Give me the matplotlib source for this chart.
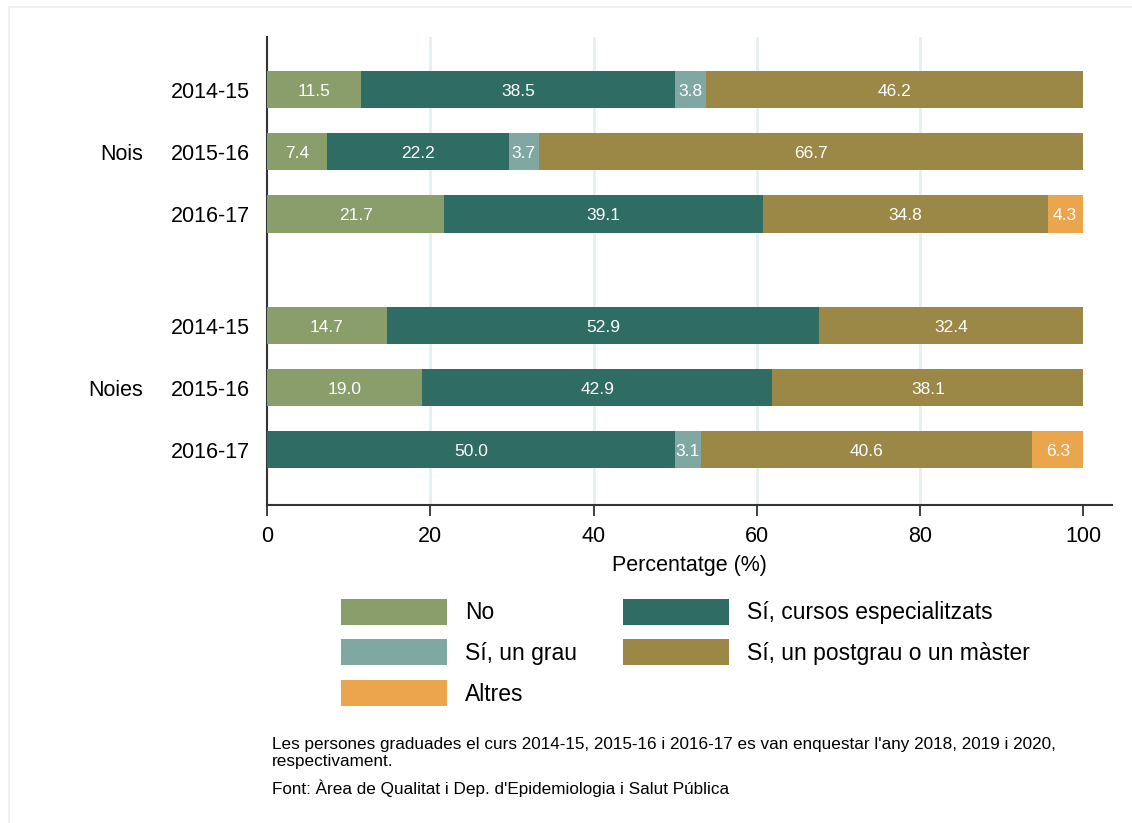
import matplotlib.pyplot as plt
from matplotlib.patches import Rectangle, Patch
from matplotlib.transforms import blended_transform_factory

plt.rcParams['font.family'] = ['Liberation Sans', 'DejaVu Sans']

# Data
groups = ['Nois', 'Noies']
years = ['2014-15', '2015-16', '2016-17', '2014-15', '2015-16', '2016-17']
categories = ['No', 'Sí, cursos especialitzats', 'Sí, un grau',
              'Sí, un postgrau o un màster', 'Altres']
colors = ['#8a9e6b', '#2e6c64', '#7fa8a3', '#9b8746', '#eba54d']

no_vals = [11.5, 7.4, 21.7, 14.7, 19.0, 0.0]
cursos_vals = [38.5, 22.2, 39.1, 52.9, 42.9, 50.0]
grau_vals = [3.8, 3.7, 0.0, 0.0, 0.0, 3.1]
postgrau_vals = [46.2, 66.7, 34.8, 32.4, 38.1, 40.6]
altres_vals = [0.0, 0.0, 4.3, 0.0, 0.0, 6.3]
series = [no_vals, cursos_vals, grau_vals, postgrau_vals, altres_vals]

note_lines = ["Les persones graduades el curs 2014-15, 2015-16 i 2016-17 es van enquestar l'any 2018, 2019 i 2020,",
              "respectivament.",
              "Font: Àrea de Qualitat i Dep. d'Epidemiologia i Salut Pública"]

ypos = [0, 1, 2, 3.8, 4.8, 5.8]

fig = plt.figure(figsize=(11.32, 8.23), dpi=100)
ax = fig.add_axes([267 / 1132, 1 - 505 / 823, (1112 - 267) / 1132, (505 - 37) / 823])

# light outer frame
fig.add_artist(Rectangle((9 / 1132, -0.05), 1.1, 1 - 7 / 823 + 0.05,
                         transform=fig.transFigure, fill=False,
                         edgecolor='#ececec', linewidth=1.2))

left = [0.0] * len(ypos)
for vals, col, lab in zip(series, colors, categories):
    ax.barh(ypos, vals, left=left, height=0.6, color=col, label=lab, zorder=3)
    for y, v, l in zip(ypos, vals, left):
        if v > 0:
            ax.text(l + v / 2, y, f'{v:.1f}', ha='center', va='center_baseline',
                    color='white', fontsize=12.5, zorder=4)
    left = [a + b for a, b in zip(left, vals)]

ax.set_xlim(0, 103.5)
ax.set_ylim(6.69, -0.85)
ax.set_xticks([0, 20, 40, 60, 80, 100])
ax.set_yticks(ypos)
ax.set_yticklabels(years)
ax.tick_params(axis='y', length=0, pad=12, labelsize=15.5)
ax.tick_params(axis='x', length=8, width=1.3, color='#333333', labelsize=15.5, pad=7)
for x in [20, 40, 60, 80]:
    ax.axvline(x, color='#e6eff1', linewidth=2, zorder=1)
for s in ['top', 'right']:
    ax.spines[s].set_visible(False)
for s in ['left', 'bottom']:
    ax.spines[s].set_color('#333333')
    ax.spines[s].set_linewidth(1.5)
ax.set_xlabel('Percentatge (%)', fontsize=15.5, labelpad=6)

# group labels
trans = blended_transform_factory(fig.transFigure, ax.transData)
ax.text(143 / 1132, ypos[1], groups[0], transform=trans, ha='right',
        va='center_baseline', fontsize=15.5)
ax.text(143 / 1132, ypos[4], groups[1], transform=trans, ha='right',
        va='center_baseline', fontsize=15.5)

# legend (column-major order)
order = [0, 2, 4, 1, 3]
handles = [Patch(facecolor=colors[i], label=categories[i]) for i in order]
fig.legend(handles=handles, ncol=2, loc='upper left',
           bbox_to_anchor=(320 / 1132, 1 - 578 / 823), frameon=False,
           fontsize=16.5, handlelength=4.63, handleheight=1.38,
           labelspacing=0.63, columnspacing=2.0, handletextpad=0.79)

# notes
for line, ypix in zip(note_lines, [743, 760, 787]):
    fig.text(272 / 1132, 1 - ypix / 823, line, fontsize=12.3, va='center_baseline')

fig.savefig('out.png', dpi=100)
